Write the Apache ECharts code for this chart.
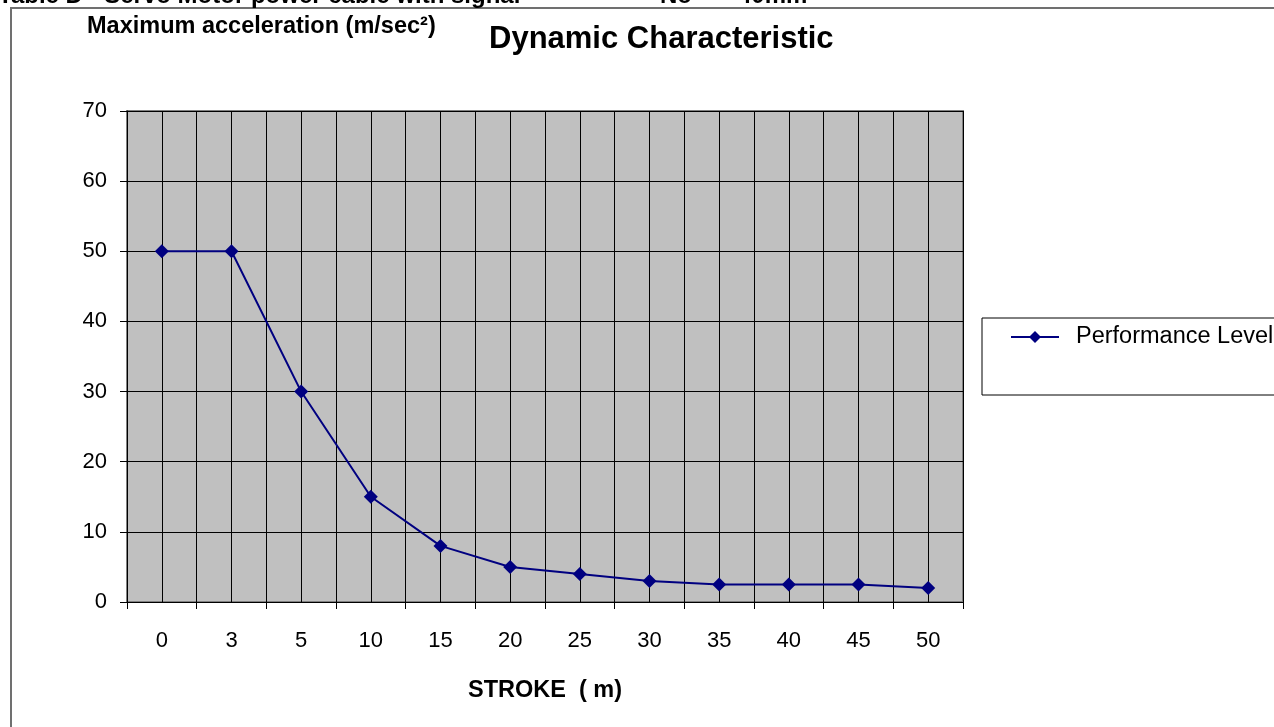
<!DOCTYPE html>
<html>
<head>
<meta charset="utf-8">
<script src="https://cdn.jsdelivr.net/npm/echarts@6/dist/echarts.min.js"></script>
<style>html,body{margin:0;padding:0;background:#fff}#c{width:1274px;height:727px}</style>
</head>
<body>
<div id="c"></div>
<script>
var categories = ['0', '3', '5', '10', '15', '20', '25', '30', '35', '40', '45', '50'];
var performance = [50, 50, 30, 15, 8, 5, 4, 3, 2.5, 2.5, 2.5, 2];
var yTicks = [0, 10, 20, 30, 40, 50, 60, 70];

var FONT = 'Liberation Sans, Arial, sans-serif';
var chart = echarts.init(document.getElementById('c'), null, {renderer: 'canvas'});
chart.setOption({
  animation: false,
  backgroundColor: '#fff',
  title: {
    text: 'Dynamic Characteristic',
    left: 484, top: 19,
    textStyle: {fontFamily: FONT, fontSize: 31, fontWeight: 'bold', color: '#000'}
  },
  graphic: [
    {type: 'rect', shape: {x: 11, y: 8, width: 1400, height: 900}, style: {fill: 'none', stroke: '#707070', lineWidth: 2}, z: 0},
    {type: 'text', x: -2, y: 8, style: {text: 'Table D - Servo Motor power cable with signal', font: 'bold 24px ' + FONT, fill: '#000', verticalAlign: 'bottom'}},
    {type: 'text', x: 660, y: 8, style: {text: 'No', font: 'bold 24px ' + FONT, fill: '#000', verticalAlign: 'bottom'}},
    {type: 'text', x: 738, y: 8, style: {text: '40mm', font: 'bold 24px ' + FONT, fill: '#000', verticalAlign: 'bottom'}},
    {type: 'rect', shape: {x: 982, y: 318, width: 400, height: 77}, style: {fill: '#fff', stroke: '#000', lineWidth: 1}, z: 1},
    {type: 'text', x: 87, y: 27, style: {text: 'Maximum acceleration (m/sec²)', font: 'bold 23.5px ' + FONT, fill: '#000', verticalAlign: 'middle'}}
  ],
  legend: {
    left: 1005, top: 320, z: 5,
    itemWidth: 48, itemHeight: 15,
    data: [{name: 'Performance Level'}],
    textStyle: {fontFamily: FONT, fontSize: 23.5, color: '#000', padding: [0, 0, 0, 12]}
  },
  grid: {left: 127, right: 311, top: 111, bottom: 125, containLabel: false,
         show: true, backgroundColor: '#C0C0C0', borderColor: '#808080', borderWidth: 2},
  xAxis: [
    {
      type: 'category', data: categories, boundaryGap: true,
      name: 'STROKE  ( m)', nameLocation: 'middle', nameGap: 77,
      nameTextStyle: {fontFamily: FONT, fontSize: 23.5, fontWeight: 'bold', color: '#000'},
      axisLine: {lineStyle: {color: '#000', width: 1}},
      axisTick: {show: true, length: 7, interval: 0, lineStyle: {color: '#000'}},
      axisLabel: {fontFamily: FONT, fontSize: 22, color: '#000', margin: 28, interval: 0},
      splitLine: {show: false}
    },
    {
      type: 'value', min: 0, max: 24, interval: 1, position: 'top', show: true,
      axisLine: {show: false}, axisTick: {show: false}, axisLabel: {show: false},
      splitLine: {show: true, lineStyle: {color: '#000', width: 1}}
    }
  ],
  yAxis: {
    type: 'value', min: 0, max: 70, interval: 10,
    axisLine: {show: true, lineStyle: {color: '#000', width: 1}},
    axisTick: {show: true, length: 7, lineStyle: {color: '#000'}},
    axisLabel: {fontFamily: FONT, fontSize: 22, color: '#000', margin: 20,
      formatter: function (v) { return yTicks.indexOf(v) >= 0 ? String(v) : ''; }},
    splitLine: {show: true, lineStyle: {color: '#000', width: 1}}
  },
  series: [{
    name: 'Performance Level', type: 'line', data: performance,
    xAxisIndex: 0,
    symbol: 'diamond', symbolSize: 14,
    lineStyle: {color: '#000080', width: 2},
    itemStyle: {color: '#000080'},
    z: 3
  }]
});
</script>
</body>
</html>
